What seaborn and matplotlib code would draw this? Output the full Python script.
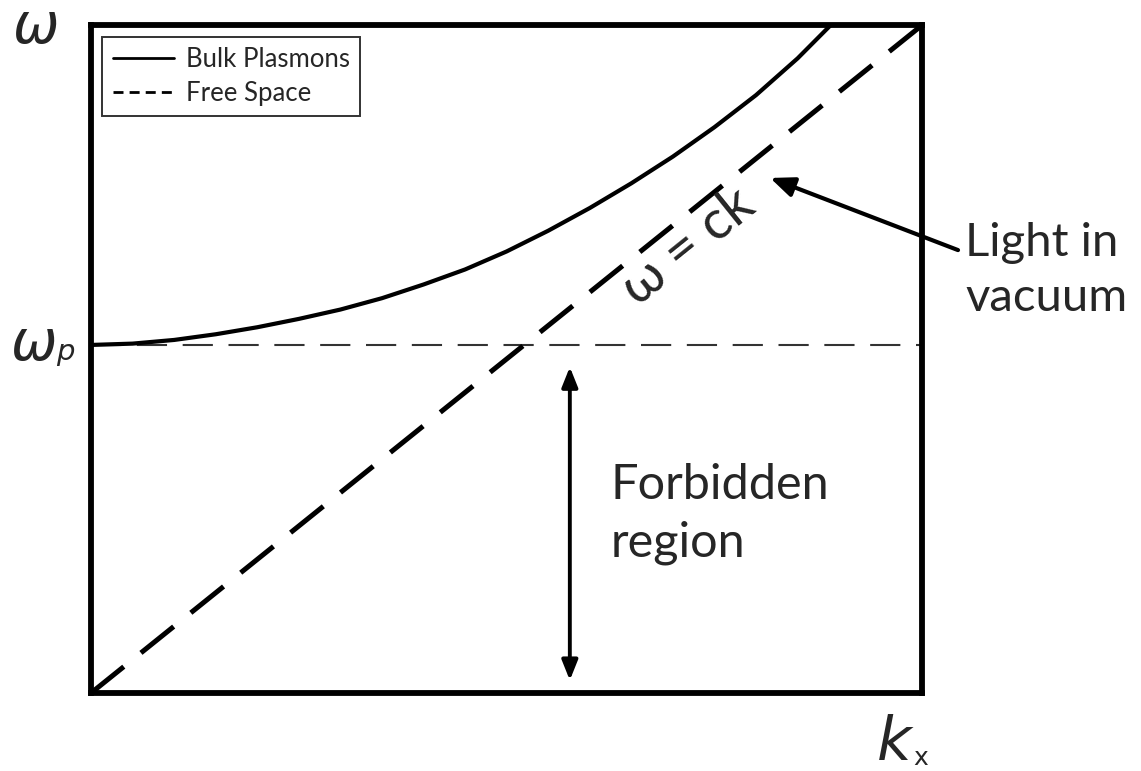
import matplotlib
matplotlib.use("Agg")
import matplotlib.pyplot as plt
import seaborn as sns
import pandas as pd

# Normalised wavevector / frequency values (axes span 0..1)
k_plasmon = [0.00, 0.05, 0.10, 0.15, 0.20, 0.25, 0.30, 0.35, 0.40, 0.45,
             0.50, 0.55, 0.60, 0.65, 0.70, 0.75, 0.80, 0.85, 0.89]
w_plasmon = [0.521, 0.523, 0.5285, 0.537, 0.5475, 0.560, 0.574, 0.591, 0.6115,
             0.634, 0.661, 0.692, 0.726, 0.763, 0.803, 0.847, 0.895, 0.950, 1.000]
k_light = [0.0, 1.0]
w_light = [0.0, 1.0]
w_p = 0.521

series_labels = ["Bulk Plasmons", "Free Space"]

sns.set_theme(style="white")
plt.rcParams["font.family"] = ["Lato", "DejaVu Sans"]

fig = plt.figure(figsize=(11.41, 7.71), dpi=100)
ax = fig.add_axes([0.0798, 0.1012, 0.7285, 0.8664])

plasmon_df = pd.DataFrame({"k": k_plasmon, "w": w_plasmon})
light_df = pd.DataFrame({"k": k_light, "w": w_light})

sns.lineplot(data=plasmon_df, x="k", y="w", ax=ax, color="black",
             linewidth=3.0, label=series_labels[0], sort=False)
sns.lineplot(data=light_df, x="k", y="w", ax=ax, color="black",
             linewidth=3.6, label=series_labels[1], sort=False)
ax.lines[0].set_solid_joinstyle("round")
light_line = ax.lines[-1]
light_line.set_dashes((8.4, 4.4))
light_line.set_dash_capstyle("butt")

# plasma frequency level
ax.axhline(w_p, color="#333333", linewidth=1.5, dashes=(14.5, 7.5), zorder=1)

ax.set_xlim(0, 1)
ax.set_ylim(0, 1)
ax.set_xticks([])
ax.set_yticks([])
ax.set_xlabel("")
ax.set_ylabel("")
for sp in ax.spines.values():
    sp.set_visible(True)
    sp.set_color("black")
    sp.set_linewidth(4.2)

leg = ax.legend(loc="upper left", bbox_to_anchor=(0.0135, 0.982), fontsize=18.5,
                frameon=True, fancybox=False, edgecolor="black",
                handlelength=2.4, handletextpad=0.45, borderpad=0.4,
                labelspacing=0.32, borderaxespad=0.0)
leg.get_frame().set_linewidth(1.4)
for h in leg.get_lines():
    h.set_linewidth(2.0)
leg.get_lines()[1].set_dashes((3.6, 2.2))

# axis symbols
fig.text(36 / 1141, 1 - 43 / 771, "ω", fontsize=40, style="italic",
         family="DejaVu Sans", ha="center", va="baseline")
fig.text(34 / 1141, 1 - 360 / 771, "ω", fontsize=40, style="italic",
         family="DejaVu Sans", ha="center", va="baseline")
fig.text(65 / 1141, 1 - 360 / 771, "p", fontsize=21, style="italic",
         family="DejaVu Sans", ha="center", va="baseline")
fig.text(894 / 1141, 1 - 760 / 771, "k", fontsize=43, style="italic",
         family="DejaVu Sans", ha="center", va="baseline")
fig.text(921 / 1141, 1 - 765 / 771, "x", fontsize=18,
         family="DejaVu Sans", ha="center", va="baseline")

# light line label along the diagonal
ax.text(0.718, 0.668, "ω = ck", fontsize=39, rotation=38.8,
        rotation_mode="anchor", ha="center", va="center")

# light-in-vacuum pointer
ax.annotate("", xy=(0.817, 0.771), xytext=(1.043, 0.663),
            arrowprops=dict(arrowstyle="-|>,head_length=1.2,head_width=0.5",
                            color="black", lw=3.0, shrinkA=0, shrinkB=0),
            annotation_clip=False)
ax.text(1.052, 0.633, "Light in\nvacuum", fontsize=34, ha="left",
        va="center", linespacing=1.38, clip_on=False)

# forbidden band marker
ax.annotate("", xy=(0.576, 0.488), xytext=(0.576, 0.019),
            arrowprops=dict(arrowstyle="<|-|>,head_length=1.0,head_width=0.4",
                            color="black", lw=2.8, shrinkA=0, shrinkB=0))
ax.text(0.625, 0.268, "Forbidden\nregion", fontsize=35, ha="left",
        va="center", linespacing=1.38)

fig.savefig("out.png", dpi=100)
